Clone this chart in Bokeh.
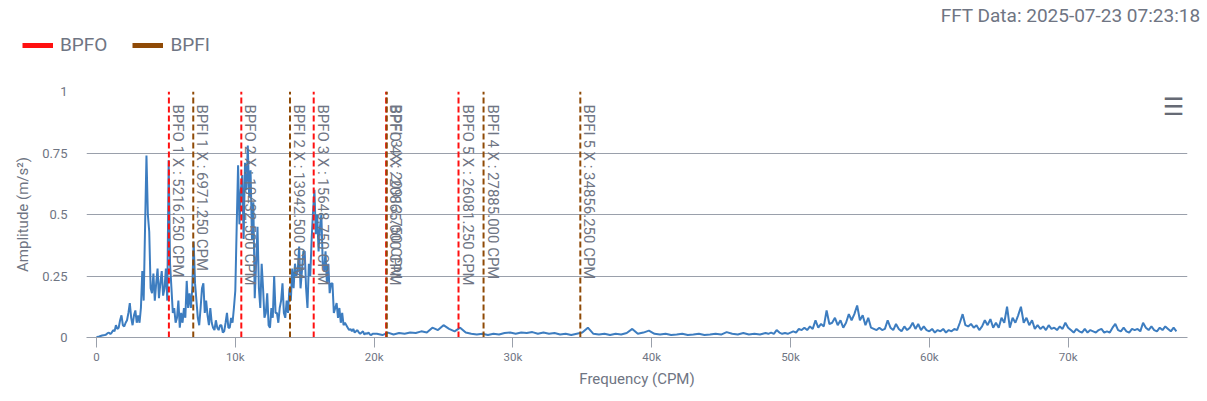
import numpy as np
from bokeh.plotting import figure
from bokeh.layouts import column
from bokeh.models import FixedTicker, Label, Legend, LegendItem, Range1d
from bokeh.core.properties import value
from bokeh.embed import file_html
from bokeh.resources import INLINE

# ---------------- data ----------------
title_text = "FFT Data: 2025-07-23 07:23:18"
x_label = "Frequency (CPM)"
y_label = "Amplitude (m/s²)"
legend_labels = ["BPFO", "BPFI"]

bpfo_orders = [1, 2, 3, 4, 5]
bpfo_freqs = [5216.25, 10432.5, 15648.75, 20865.0, 26081.25]
bpfi_orders = [1, 2, 3, 4, 5]
bpfi_freqs = [6971.25, 13942.5, 20913.75, 27885.0, 34856.25]

x_ticks = [0, 10000, 20000, 30000, 40000, 50000, 60000, 70000]
x_tick_labels = ["0", "10k", "20k", "30k", "40k", "50k", "60k", "70k"]
y_ticks = [0, 0.25, 0.5, 0.75, 1]
y_tick_labels = ["0", "0.25", "0.5", "0.75", "1"]

# spectrum, 0 .. 19 900 CPM every 100 CPM
low_start = 0
low_step = 100
amp_low = [
    0.0, 0.003, 0.004, 0.006, 0.008, 0.009, 0.01, 0.012, 0.018, 0.02,
    0.014, 0.02, 0.03, 0.025, 0.05, 0.035, 0.04, 0.07, 0.09, 0.05,
    0.045, 0.06, 0.07, 0.1, 0.14, 0.08, 0.05, 0.09, 0.11, 0.06,
    0.09, 0.06, 0.12, 0.27, 0.15, 0.45, 0.74, 0.5, 0.43, 0.2,
    0.18, 0.26, 0.15, 0.22, 0.28, 0.16, 0.22, 0.27, 0.17, 0.2,
    0.28, 0.15, 0.72, 0.3, 0.2, 0.1, 0.12, 0.06, 0.08, 0.15,
    0.04, 0.1, 0.06, 0.12, 0.08, 0.23, 0.12, 0.18, 0.12, 0.2,
    0.39, 0.22, 0.15, 0.08, 0.05, 0.12, 0.2, 0.22, 0.1, 0.15,
    0.09, 0.05, 0.12, 0.06, 0.04, 0.03, 0.07, 0.04, 0.03, 0.05,
    0.05, 0.02, 0.025, 0.06, 0.1, 0.04, 0.04, 0.08, 0.06, 0.12,
    0.19, 0.45, 0.70, 0.46, 0.6, 0.66, 0.4, 0.71, 0.6, 0.78,
    0.57, 0.68, 0.4, 0.55, 0.16, 0.3, 0.45, 0.2, 0.12, 0.3,
    0.2, 0.08, 0.1, 0.18, 0.05, 0.04, 0.12, 0.08, 0.25, 0.1,
    0.1, 0.06, 0.12, 0.15, 0.22, 0.1, 0.08, 0.15, 0.1, 0.2,
    0.15, 0.28, 0.2, 0.3, 0.25, 0.27, 0.37, 0.2, 0.27, 0.35,
    0.35, 0.2, 0.12, 0.3, 0.25, 0.4, 0.51, 0.6, 0.42, 0.5,
    0.35, 0.45, 0.5, 0.3, 0.27, 0.35, 0.22, 0.3, 0.18, 0.22,
    0.22, 0.1, 0.12, 0.14, 0.08, 0.12, 0.06, 0.1, 0.05, 0.06,
    0.05, 0.04, 0.03, 0.035, 0.025, 0.035, 0.02, 0.025, 0.03, 0.02,
    0.015, 0.02, 0.025, 0.012, 0.018, 0.015, 0.02, 0.012, 0.01, 0.015,
]
# spectrum, 20 200 .. 47 800 CPM every 400 CPM
mid_start = 20200
mid_step = 400
amp_mid = [
    0.015, 0.01, 0.02, 0.012, 0.018, 0.015, 0.02, 0.018, 0.025, 0.02,
    0.04, 0.03, 0.05, 0.035, 0.025, 0.04, 0.02, 0.015, 0.012, 0.015,
    0.01, 0.015, 0.012, 0.018, 0.02, 0.015, 0.02, 0.018, 0.022, 0.015,
    0.02, 0.015, 0.018, 0.012, 0.015, 0.01, 0.015, 0.02, 0.04, 0.015,
    0.012, 0.015, 0.01, 0.015, 0.012, 0.018, 0.035, 0.015, 0.02, 0.028,
    0.015, 0.012, 0.015, 0.01, 0.012, 0.015, 0.01, 0.012, 0.015, 0.01,
    0.012, 0.015, 0.012, 0.022, 0.015, 0.012, 0.018, 0.012, 0.015, 0.012,
]
# spectrum, 48 000 .. 77 800 CPM every 200 CPM
high_start = 48000
high_step = 200
amp_high = [
    0.015, 0.018, 0.015, 0.02, 0.015, 0.03, 0.02, 0.015, 0.018, 0.015,
    0.02, 0.025, 0.02, 0.035, 0.03, 0.04, 0.03, 0.045, 0.035, 0.07,
    0.04, 0.055, 0.045, 0.11, 0.055, 0.06, 0.08, 0.05, 0.07, 0.04,
    0.06, 0.095, 0.07, 0.095, 0.13, 0.07, 0.09, 0.05, 0.08, 0.04,
    0.035, 0.03, 0.04, 0.03, 0.035, 0.07, 0.04, 0.03, 0.055, 0.035,
    0.025, 0.045, 0.03, 0.04, 0.06, 0.035, 0.055, 0.03, 0.045, 0.03,
    0.025, 0.035, 0.02, 0.03, 0.025, 0.035, 0.02, 0.03, 0.025, 0.035,
    0.03, 0.06, 0.095, 0.05, 0.045, 0.055, 0.04, 0.05, 0.03, 0.045,
    0.07, 0.05, 0.075, 0.04, 0.06, 0.04, 0.08, 0.06, 0.125, 0.04,
    0.08, 0.06, 0.09, 0.125, 0.06, 0.08, 0.05, 0.07, 0.035, 0.05,
    0.035, 0.045, 0.03, 0.05, 0.035, 0.04, 0.03, 0.045, 0.035, 0.06,
    0.04, 0.03, 0.02, 0.035, 0.025, 0.02, 0.035, 0.02, 0.03, 0.025,
    0.02, 0.03, 0.035, 0.02, 0.025, 0.02, 0.04, 0.055, 0.03, 0.025,
    0.04, 0.025, 0.02, 0.035, 0.03, 0.035, 0.025, 0.06, 0.04, 0.03,
    0.045, 0.03, 0.025, 0.04, 0.03, 0.045, 0.035, 0.025, 0.04, 0.025,
]

freq = np.concatenate([low_start + np.arange(len(amp_low)) * low_step,
                       mid_start + np.arange(len(amp_mid)) * mid_step,
                       high_start + np.arange(len(amp_high)) * high_step])
amp = np.array(amp_low + amp_mid + amp_high)

# ---------------- style ----------------
FONT = "Roboto"
TEXT = "#6f7583"
GRID = "#9aa0ab"
LINE = "#3d7dc0"
RED = "#ff1010"
BROWN = "#8f4a06"

W = 1207
HEAD_H = 80
MAIN_H = 321

# ---------------- header (title + legend) ----------------
head = figure(width=W, height=HEAD_H, output_backend="svg", toolbar_location=None,
              x_range=Range1d(0, 1), y_range=Range1d(0, 1),
              x_axis_location=None, y_axis_location=None,
              min_border_left=0, min_border_right=0, min_border_top=0, min_border_bottom=0)
head.frame_align = False
head.outline_line_color = None
head.grid.visible = False

# one-point lines draw nothing; they only carry the swatch style for the legend
r_bpfo = head.line(x=[0], y=[0], line_color=RED, line_width=5)
r_bpfi = head.line(x=[0], y=[0], line_color=BROWN, line_width=5)
legend = Legend(items=[LegendItem(label=legend_labels[0], renderers=[r_bpfo]),
                       LegendItem(label=legend_labels[1], renderers=[r_bpfi])],
                location=(22, 24), orientation="horizontal",
                glyph_width=31, glyph_height=20, label_standoff=7, spacing=25,
                padding=0, margin=0, border_line_alpha=0, background_fill_alpha=0,
                label_text_font=FONT, label_text_font_size="19px",
                label_text_color=TEXT)
head.add_layout(legend, "center")
head.add_layout(Label(x=1200, y=65, x_units="screen", y_units="screen",
                      text=title_text, text_align="right", text_baseline="middle",
                      text_font=FONT, text_font_size="19px", text_color=TEXT))

# ---------------- main chart ----------------
p = figure(width=W, height=MAIN_H, output_backend="svg", toolbar_location=None,
           x_range=Range1d(-720, 78600), y_range=Range1d(0, 1),
           min_border_left=86, min_border_right=20, min_border_top=11,
           min_border_bottom=64)
p.frame_align = False
p.outline_line_color = None

p.xaxis.ticker = FixedTicker(ticks=x_ticks)
p.xaxis.major_label_overrides = {t: l for t, l in zip(x_ticks, x_tick_labels)}
p.xaxis.minor_tick_line_color = None
p.xaxis.major_tick_out = 10
p.xaxis.major_tick_in = 0
p.xaxis.major_tick_line_color = GRID
p.xaxis.axis_line_color = GRID
p.xaxis.major_label_standoff = 2
p.xaxis.major_label_text_font = FONT
p.xaxis.major_label_text_font_size = "11.5px"
p.xaxis.major_label_text_color = TEXT
p.xaxis.axis_label = x_label
p.xaxis.axis_label_text_font = FONT
p.xaxis.axis_label_text_font_style = "normal"
p.xaxis.axis_label_text_font_size = "15px"
p.xaxis.axis_label_text_color = TEXT
p.xaxis.axis_label_standoff = 3

p.yaxis.ticker = FixedTicker(ticks=y_ticks)
p.yaxis.major_label_overrides = {t: l for t, l in zip(y_ticks, y_tick_labels)}
p.yaxis.minor_tick_line_color = None
p.yaxis.major_tick_line_color = None
p.yaxis.major_tick_out = 0
p.yaxis.major_tick_in = 0
p.yaxis.axis_line_color = None
p.yaxis.major_label_standoff = 19
p.yaxis.major_label_text_font = FONT
p.yaxis.major_label_text_font_size = "13px"
p.yaxis.major_label_text_color = TEXT
p.yaxis.axis_label = y_label
p.yaxis.axis_label_text_font = FONT
p.yaxis.axis_label_text_font_style = "normal"
p.yaxis.axis_label_text_font_size = "15px"
p.yaxis.axis_label_text_color = TEXT
p.yaxis.axis_label_standoff = 7

p.xgrid.grid_line_color = None
p.ygrid.ticker = FixedTicker(ticks=y_ticks)
p.ygrid.grid_line_color = GRID
p.ygrid.grid_line_width = 1

# spectrum
p.line(freq, amp, line_color=LINE, line_width=2)

# fault-frequency markers
p.segment(x0=bpfo_freqs, y0=[0] * len(bpfo_freqs), x1=bpfo_freqs, y1=[1] * len(bpfo_freqs),
          line_color=RED, line_width=2, line_dash="6 3")
p.segment(x0=bpfi_freqs, y0=[0] * len(bpfi_freqs), x1=bpfi_freqs, y1=[1] * len(bpfi_freqs),
          line_color=BROWN, line_width=2, line_dash="6 3")

marker_freqs = bpfo_freqs + bpfi_freqs
marker_texts = ([f"BPFO {o} X : {f:.3f} CPM" for o, f in zip(bpfo_orders, bpfo_freqs)] +
                [f"BPFI {o} X : {f:.3f} CPM" for o, f in zip(bpfi_orders, bpfi_freqs)])
p.text(x=marker_freqs, y=[1] * len(marker_freqs), text=marker_texts,
       angle=-np.pi / 2, text_align="left", text_baseline="bottom",
       x_offset=0, y_offset=13, text_font=value(FONT), text_font_size="15px",
       text_color=TEXT)

# menu icon
p.add_layout(Label(x=1087, y=231, x_units="screen", y_units="screen",
                   text="☰", text_align="center", text_baseline="middle",
                   text_font="DejaVu Sans", text_font_size="24px", text_color="#666a75"))

layout = column(head, p, spacing=0)
open("out.html", "w").write(file_html(layout, INLINE))
